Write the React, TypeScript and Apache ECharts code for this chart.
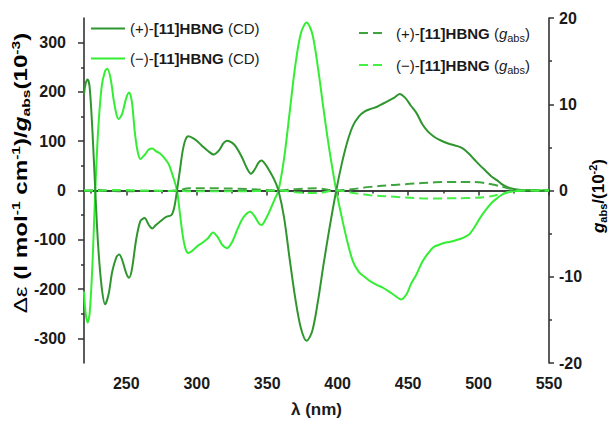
import React, { useEffect, useRef } from "react";
import * as echarts from "echarts";

// (+)-[11]HBNG CD spectrum
const cdPlusNm = [220, 221, 222.5, 224, 226, 228, 230, 232.5, 235, 237.5, 240, 243, 245, 247, 250, 252, 254, 257, 260, 263, 266, 268.5, 271, 274, 278, 282, 284, 286, 288, 290, 292, 294, 297, 300, 304, 308, 312, 316, 319, 321.5, 325, 328, 332, 336, 338.5, 341, 344, 346, 349, 352, 355, 358, 362, 366, 370, 374, 378, 382, 386, 390, 394, 399, 403, 407, 411, 415, 419, 424, 428, 432, 436, 440, 444, 448, 452, 456, 460, 464, 468, 472, 476, 480, 485, 489, 493, 497, 501, 505, 509, 513, 517, 521, 525, 530, 535, 540, 545, 550];
const cdPlusVal = [195, 215, 225, 210, 120, 0, -110, -195, -231, -210, -165, -135, -130, -140, -168, -177, -160, -100, -62, -56, -70, -77, -70, -63, -54, -50, -35, 0, 40, 80, 103, 110, 107, 101, 90, 80, 73, 82, 96, 101, 97, 88, 68, 43, 34, 42, 57, 61, 52, 38, 22, 0, -55, -140, -220, -280, -305, -285, -225, -150, -80, 0, 55, 100, 132, 150, 160, 166, 170, 176, 182, 188, 196, 188, 172, 157, 135, 120, 110, 103, 98, 94, 90, 85, 75, 63, 51, 40, 29, 21, 12, 6, 3, 1, 0, 1, -1, 0];

// (−)-[11]HBNG CD spectrum
const cdMinusNm = [220, 221, 222.5, 224, 226, 228, 230, 232.5, 235, 236.6, 239, 241, 243, 244.5, 247, 250, 252, 254, 256, 258, 260, 263, 266, 268.5, 271, 274, 277, 280, 283, 286, 288, 290, 292, 294, 297, 300, 304, 308, 311.5, 315, 318, 321.5, 325, 329, 333, 338, 341, 344, 346, 349, 352, 355, 358, 362, 366, 370, 374, 378, 382, 386, 390, 394, 399, 403, 407, 411, 415, 419, 423, 428, 432, 436, 440, 445, 449, 452, 456, 460, 464, 468, 472, 476, 480, 485, 489, 493, 497, 501, 505, 509, 513, 517, 522, 527, 532, 537, 542, 546, 550];
const cdMinusVal = [-205, -245, -268, -250, -150, 0, 120, 210, 243, 247, 225, 185, 155, 145, 155, 188, 199, 180, 120, 80, 64, 72, 83, 85, 80, 75, 66, 54, 30, 0, -45, -90, -118, -127, -122, -114, -106, -97, -85, -95, -110, -117, -105, -78, -55, -43, -52, -66, -70, -58, -40, -20, 0, 65, 160, 255, 320, 341, 318, 250, 165, 85, 0, -55, -105, -145, -165, -175, -184, -192, -197, -204, -212, -221, -210, -190, -170, -145, -128, -115, -110, -106, -104, -100, -96, -90, -75, -56, -40, -26, -16, -8, -3, -1, 0, 1, -1, 1, 0];

// g_abs (10^-2)
const gPlusNm = [220, 230, 240, 250, 260, 270, 280, 286, 295, 310, 330, 345, 358, 370, 385, 399, 410, 423, 440, 451, 469, 480, 490, 500, 510, 520, 528, 535, 550];
const gPlusVal = [0, 0.05, -0.05, -0.1, -0.05, -0.05, -0.05, 0, 0.25, 0.25, 0.2, 0.1, 0, 0.15, 0.25, 0, 0.15, 0.42, 0.65, 0.77, 0.95, 0.98, 1.0, 0.95, 0.7, 0.3, 0.05, 0, 0];
const gMinusNm = [220, 230, 240, 250, 260, 270, 280, 286, 295, 310, 330, 345, 358, 370, 385, 399, 410, 423, 440, 451, 469, 480, 490, 505, 515, 522, 530, 550];
const gMinusVal = [0, -0.05, 0.05, 0.05, 0, 0, -0.05, 0, -0.1, -0.1, -0.1, -0.05, 0, -0.2, -0.3, 0, -0.25, -0.54, -0.72, -0.84, -0.92, -0.9, -0.88, -0.75, -0.45, -0.15, 0, 0];

const xMajor = [250, 300, 350, 400, 450, 500, 550];
const xMinor = [225, 275, 325, 375, 425, 475, 525];
const yLeftMajor = [-300, -200, -100, 0, 100, 200, 300];
const yLeftMinor = [-250, -150, -50, 50, 150, 250];
const yRightMajor = [-20, -10, 0, 10, 20];
const yRightMinor = [-15, -5, 5, 15];

const names = ["(+)-[11]HBNG (CD)", "(−)-[11]HBNG (CD)", "(+)-[11]HBNG (gabs)", "(−)-[11]HBNG (gabs)"];

const zip = (a: number[], b: number[]) => a.map((v, i) => [v, b[i]]);

const FONT = "'Liberation Sans', Arial, sans-serif";
const DARK = "#2f962f";
const BRIGHT = "#33ee33";
const DARKD = "#3ea53e";
const BRIGHTD = "#44f044";
const AXIS = "#333";
const TXT = "#1a1a1a";

export default function App() {
  const ref = useRef<HTMLDivElement>(null);
  useEffect(() => {
    if (!ref.current) return;
    const chart = echarts.init(ref.current, undefined, { renderer: "svg" });
    const axisLine = { show: true, lineStyle: { color: AXIS, width: 1.6 } };
    const label = { color: TXT, fontFamily: FONT, fontWeight: "bold" as const, fontSize: 16 };
    const richLegend = {
      n: { fontFamily: FONT, fontSize: 15, color: TXT, lineHeight: 18 },
      b: { fontFamily: FONT, fontSize: 15, fontWeight: "bold", color: TXT, lineHeight: 18 },
      i: { fontFamily: FONT, fontSize: 15, fontStyle: "italic", color: TXT, lineHeight: 18 },
      sub: { fontFamily: FONT, fontSize: 11, color: TXT, padding: [9, 0, 0, 0], lineHeight: 18 },
    };
    const legendFmt = (name: string) => {
      if (name.endsWith("(gabs)")) {
        return `{n|${name.slice(0, 4)}}{b|[11]HBNG}{n| (}{i|g}{sub|abs}{n|)}`;
      }
      return `{n|${name.slice(0, 4)}}{b|[11]HBNG}{n| (CD)}`;
    };
    const nameRich = {
      a: { fontFamily: FONT, fontSize: 17, color: TXT },
      b: { fontFamily: FONT, fontSize: 17, fontWeight: "bold", color: TXT },
      i: { fontFamily: FONT, fontSize: 17, fontWeight: "bold", fontStyle: "italic", color: TXT },
      sup: { fontFamily: FONT, fontSize: 11, fontWeight: "bold", color: TXT, padding: [0, 0, 10, 0] },
      sub: { fontFamily: FONT, fontSize: 11, fontWeight: "bold", color: TXT, padding: [10, 0, 0, 0] },
    };
    chart.setOption({
      animation: false,
      grid: { left: 84, right: 62, top: 18, bottom: 58 },
      legend: [
        {
          data: [names[0], names[1]],
          orient: "vertical",
          left: 90,
          top: 21,
          padding: 0,
          itemWidth: 34,
          itemHeight: 14,
          itemGap: 15,
          formatter: legendFmt,
          itemStyle: { opacity: 0 },
          textStyle: { rich: richLegend },
          selectedMode: false,
        },
        {
          data: [names[2], names[3]],
          orient: "vertical",
          left: 358,
          top: 23,
          padding: 0,
          itemWidth: 26,
          itemHeight: 14,
          itemGap: 12,
          formatter: legendFmt,
          itemStyle: { opacity: 0 },
          textStyle: { rich: richLegend, padding: [0, 0, 0, 6] },
          selectedMode: false,
        },
      ],
      xAxis: [
        {
          type: "value", min: 220, max: 550, position: "bottom",
          axisLine, splitLine: { show: false },
          axisTick: { show: true, length: 5, lineStyle: { color: AXIS, width: 1.5 }, customValues: xMajor },
          axisLabel: { ...label, margin: 12, customValues: xMajor },
          name: "λ (nm)", nameLocation: "middle", nameGap: 38,
          nameTextStyle: { color: TXT, fontFamily: FONT, fontWeight: "bold", fontSize: 17 },
        },
        {
          type: "value", min: 220, max: 550, position: "bottom",
          axisLine: { show: false }, splitLine: { show: false },
          axisTick: { show: true, length: 3, lineStyle: { color: AXIS, width: 1.5 }, customValues: xMinor },
          axisLabel: { show: false },
        },
        {
          type: "value", min: 220, max: 550, position: "top",
          axisLine, splitLine: { show: false }, axisTick: { show: false }, axisLabel: { show: false },
        },
      ],
      yAxis: [
        {
          type: "value", min: -350, max: 350, position: "left",
          axisLine, splitLine: { show: false },
          axisTick: { show: true, length: 6, lineStyle: { color: AXIS, width: 1.5 }, customValues: yLeftMajor },
          axisLabel: { ...label, margin: 18, customValues: yLeftMajor },
        },
        {
          type: "value", min: -20, max: 20, position: "right",
          axisLine, splitLine: { show: false },
          axisTick: { show: true, length: 5, lineStyle: { color: AXIS, width: 1.5 }, customValues: yRightMajor },
          axisLabel: { ...label, margin: 10, customValues: yRightMajor },
        },
        {
          type: "value", min: -350, max: 350, position: "left",
          axisLine: { show: false }, splitLine: { show: false },
          axisTick: { show: true, length: 3, lineStyle: { color: AXIS, width: 1.5 }, customValues: yLeftMinor },
          axisLabel: { show: false },
        },
        {
          type: "value", min: -20, max: 20, position: "right",
          axisLine: { show: false }, splitLine: { show: false },
          axisTick: { show: true, length: 3, lineStyle: { color: AXIS, width: 1.5 }, customValues: yRightMinor },
          axisLabel: { show: false },
        },
      ],
      graphic: [
        {
          type: "text", x: 21, y: 173, rotation: Math.PI / 2, scaleX: 1.42, scaleY: 1.05,
          style: {
            text: "{a|Δε }{b|(l mol}{sup|-1}{b| cm}{sup|-1}{b|)/}{i|g}{sub|abs}{b|(10}{sup|-3}{b|)}",
            rich: nameRich, align: "center", verticalAlign: "middle",
          },
        },
        {
          type: "text", x: 598, y: 196, rotation: Math.PI / 2,
          style: {
            text: "{i|g}{sub|abs}{b|/(10}{sup|-2}{b|)}",
            rich: nameRich, align: "center", verticalAlign: "middle",
          },
        },
      ],
      series: [
        {
          name: names[0], type: "line", data: zip(cdPlusNm, cdPlusVal), xAxisIndex: 0, yAxisIndex: 0,
          symbol: "none", smooth: 0.3, lineStyle: { color: DARK, width: 2 }, itemStyle: { color: DARK }, z: 3,
        },
        {
          name: names[1], type: "line", data: zip(cdMinusNm, cdMinusVal), xAxisIndex: 0, yAxisIndex: 0,
          symbol: "none", smooth: 0.3, lineStyle: { color: BRIGHT, width: 2 }, itemStyle: { color: BRIGHT }, z: 2,
        },
        {
          name: names[2], type: "line", data: zip(gPlusNm, gPlusVal), xAxisIndex: 0, yAxisIndex: 1,
          symbol: "none", smooth: 0.4, lineStyle: { color: DARKD, width: 2, type: [9, 5] }, itemStyle: { color: DARKD }, z: 4,
        },
        {
          name: names[3], type: "line", data: zip(gMinusNm, gMinusVal), xAxisIndex: 0, yAxisIndex: 1,
          symbol: "none", smooth: 0.4, lineStyle: { color: BRIGHTD, width: 2, type: [9, 5] }, itemStyle: { color: BRIGHTD }, z: 4,
        },
      ],
    });
    return () => chart.dispose();
  }, []);
  return <div ref={ref} style={{ width: 611, height: 423, position: "absolute", left: 0, top: 0 }} />;
}
